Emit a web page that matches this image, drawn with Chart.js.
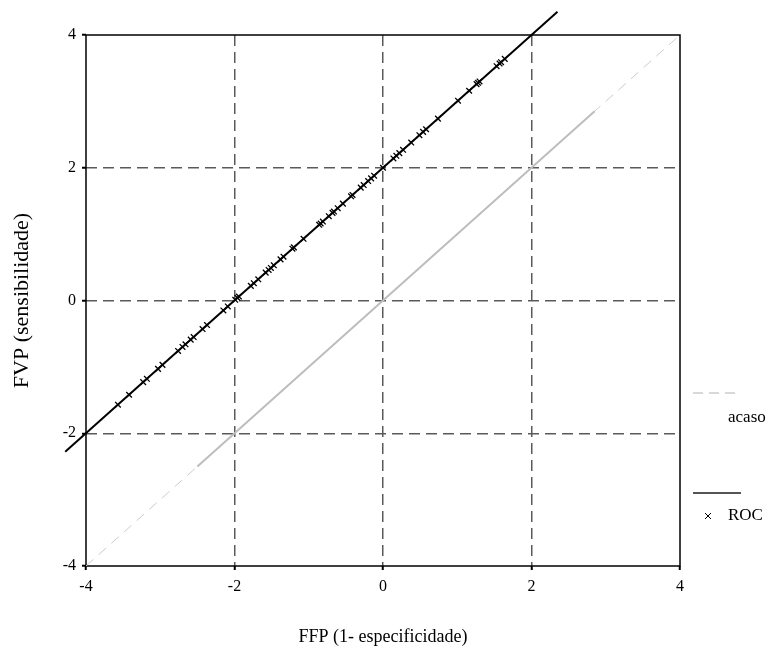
<!DOCTYPE html>
<html>
<head>
<meta charset="utf-8">
<script src="https://cdn.jsdelivr.net/npm/chart.js@4/dist/chart.umd.min.js"></script>
<style>
  html, body { margin: 0; padding: 0; background: #fff; }
  #wrap { width: 775px; height: 664px; }
</style>
</head>
<body>
<div id="wrap"><canvas id="roc" width="775" height="664"></canvas></div>
<script>
// valores
const axisTicks = [-4, -2, 0, 2, 4];
const seriesNames = ['acaso', 'ROC'];

// linha do acaso (diagonal tracejada) e trecho sólido cinza
const chanceX = [-4, 4];
const chanceY = [-4, 4];
const chanceSolidX = [-2.5, 2.85];
const chanceSolidY = [-2.5, 2.85];

// reta ROC ajustada
const rocLineX = [-4.28, 2.35];
const rocLineY = [-2.28, 4.35];

// pontos ROC (×)
const rocX = [-3.57, -3.42, -3.23, -3.18, -3.03, -2.97, -2.76, -2.70, -2.66, -2.59, -2.55, -2.43, -2.37,
  -2.15, -2.09, -1.99, -1.96, -1.94, -1.78, -1.74, -1.68, -1.58, -1.54, -1.51, -1.47, -1.38, -1.34,
  -1.22, -1.20, -1.07, -0.86, -0.84, -0.81, -0.73, -0.68, -0.66, -0.61, -0.54, -0.43, -0.41, -0.30,
  -0.26, -0.20, -0.16, -0.12, 0.00, 0.14, 0.18, 0.22, 0.27, 0.38, 0.49, 0.54, 0.58, 0.74, 1.01, 1.16,
  1.26, 1.28, 1.30, 1.53, 1.57, 1.59, 1.64];
const rocY = [-1.57, -1.42, -1.23, -1.18, -1.03, -0.97, -0.76, -0.70, -0.66, -0.59, -0.55, -0.43, -0.37,
  -0.15, -0.09, 0.01, 0.04, 0.06, 0.22, 0.26, 0.32, 0.42, 0.46, 0.49, 0.53, 0.62, 0.66,
  0.78, 0.80, 0.93, 1.14, 1.16, 1.19, 1.27, 1.32, 1.34, 1.39, 1.46, 1.57, 1.59, 1.70,
  1.74, 1.80, 1.84, 1.88, 2.00, 2.14, 2.18, 2.22, 2.27, 2.38, 2.49, 2.54, 2.58, 2.74, 3.01, 3.16,
  3.26, 3.28, 3.30, 3.53, 3.57, 3.59, 3.64];

const toPoints = (xs, ys) => xs.map((x, i) => ({ x, y: ys[i] }));

const serif = 'Liberation Serif, Times New Roman, serif';

// moldura do gráfico (bordas pretas sólidas)
const framePlugin = {
  id: 'frame',
  beforeDatasetsDraw(chart) {
    const { ctx, chartArea: { left, top, right, bottom } } = chart;
    ctx.save();
    ctx.strokeStyle = '#000';
    ctx.lineWidth = 1.5;
    ctx.setLineDash([]);
    ctx.strokeRect(left, top, right - left, bottom - top);
    ctx.restore();
  }
};

// legenda à direita
const sideLegendPlugin = {
  id: 'sideLegend',
  afterDraw(chart) {
    const { ctx } = chart;
    ctx.save();
    ctx.font = '17px ' + serif;
    ctx.fillStyle = '#000';
    ctx.textBaseline = 'middle';

    // acaso
    ctx.strokeStyle = '#cccccc';
    ctx.lineWidth = 1.5;
    ctx.setLineDash([10, 6]);
    ctx.beginPath();
    ctx.moveTo(693, 393);
    ctx.lineTo(741, 393);
    ctx.stroke();
    ctx.fillText(seriesNames[0], 728, 418);

    // ROC
    ctx.setLineDash([]);
    ctx.strokeStyle = '#555';
    ctx.lineWidth = 2;
    ctx.beginPath();
    ctx.moveTo(693, 493);
    ctx.lineTo(741, 493);
    ctx.stroke();
    ctx.fillText(seriesNames[1], 728, 516);
    ctx.strokeStyle = '#000';
    ctx.lineWidth = 1;
    ctx.beginPath();
    ctx.moveTo(705, 513); ctx.lineTo(711, 519);
    ctx.moveTo(711, 513); ctx.lineTo(705, 519);
    ctx.stroke();
    ctx.restore();
  }
};

const gridColor = (context) => {
  const v = context.tick ? context.tick.value : null;
  return (v === -4 || v === 4) ? 'rgba(0,0,0,0)' : '#5a5a5a';
};

const axisOpts = (titleText, isX) => ({
  type: 'linear',
  min: -4,
  max: 4,
  afterBuildTicks: scale => { scale.ticks = axisTicks.map(v => ({ value: v })); },
  afterFit: scale => {
    if (isX) scale.height = 98; else scale.width = 86;
  },
  ticks: {
    color: '#000',
    font: { family: serif, size: 16 },
    padding: isX ? 7 : 6,
    maxRotation: 0,
  },
  grid: {
    color: gridColor,
    lineWidth: 1.5,
    drawTicks: true,
    tickLength: 4,
    tickColor: '#000',
    tickWidth: 2,
  },
  border: { display: false, dash: [11, 6] },
  title: {
    display: true,
    text: titleText,
    color: '#000',
    font: { family: serif, size: isX ? 18 : 22 },
    padding: isX ? { top: 0, bottom: 16 } : { top: 9, bottom: 0 },
  },
});

new Chart(document.getElementById('roc'), {
  type: 'scatter',
  data: {
    datasets: [
      {
        label: 'ROC',
        data: toPoints(rocX, rocY),
        pointStyle: 'crossRot',
        pointRadius: 4,
        pointBorderColor: '#000',
        pointBorderWidth: 1.3,
        showLine: false,
        order: 0,
      },
      {
        label: 'ROC ajuste',
        data: toPoints(rocLineX, rocLineY),
        showLine: true,
        borderColor: '#000',
        borderWidth: 2,
        pointRadius: 0,
        clip: false,
        order: 1,
      },
      {
        label: 'acaso sólido',
        data: toPoints(chanceSolidX, chanceSolidY),
        showLine: true,
        borderColor: '#bdbdbd',
        borderWidth: 2,
        pointRadius: 0,
        order: 2,
      },
      {
        label: 'acaso',
        data: toPoints(chanceX, chanceY),
        showLine: true,
        borderColor: '#cccccc',
        borderWidth: 1,
        borderDash: [10, 7],
        pointRadius: 0,
        order: 3,
      },
    ],
  },
  options: {
    responsive: false,
    animation: false,
    layout: { padding: { top: 35, right: 95, bottom: 0, left: 0 } },
    plugins: {
      legend: { display: false },
      tooltip: { enabled: false },
    },
    scales: {
      x: axisOpts('FFP (1- especificidade)', true),
      y: axisOpts('FVP (sensibilidade)', false),
    },
  },
  plugins: [framePlugin, sideLegendPlugin],
});
</script>
</body>
</html>
